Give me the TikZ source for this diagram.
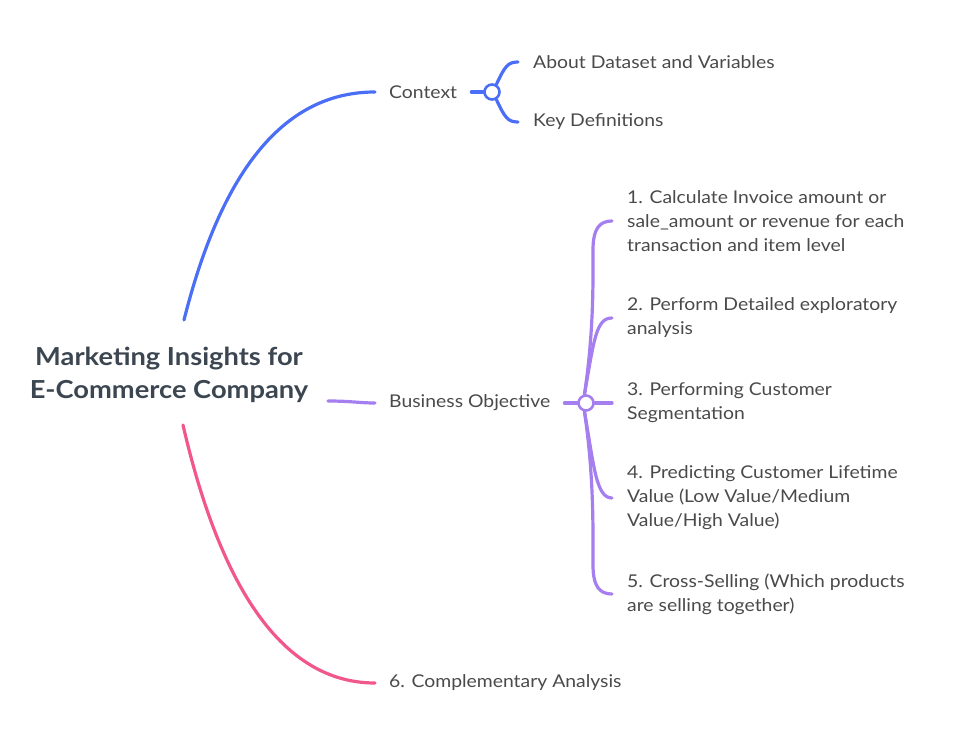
\documentclass[tikz,border=0pt]{standalone}
\usepackage{fontspec}
\setmainfont{Lato}[FakeStretch=1.1]
\usepackage{tikz}
\definecolor{ctxblue}{HTML}{4A6EF5}
\definecolor{objpurple}{HTML}{A57EEF}
\definecolor{comppink}{HTML}{F2578C}
\definecolor{txtgrey}{HTML}{4A4A4A}
\definecolor{titlegrey}{HTML}{3C4651}
\tikzset{
    topic/.style={anchor=west, inner xsep=14pt, inner ysep=0pt, text=txtgrey, font=\fontsize{17.6}{24}\selectfont},
    subtopic/.style={anchor=west, inner xsep=15pt, inner ysep=0pt, text=txtgrey, align=left, font=\fontsize{17.6}{24}\selectfont},
    branch/.style={line width=3.2pt, line cap=round},
    knot/.style={circle, draw, fill=white, line width=2.6pt, minimum size=15pt, inner sep=0pt},
}

\begin{document}
\begin{tikzpicture}[x=1pt, y=-1pt]
    \useasboundingbox (0,0) rectangle (975,738);

    \node[align=center, text=titlegrey, font=\fontsize{24.8}{33}\selectfont\bfseries] (root) at (169,375) {Marketing Insights for\\E-Commerce Company};
    \coordinate (rootN) at (184,320);
    \coordinate (rootE) at (328,401);
    \coordinate (rootS) at (183,425);

    % context branch
    \node[topic] (ctx) at (375,92) {Context};
    \node[knot, draw=ctxblue] (ctxknot) at (492,92) {};
    \node[subtopic] (data) at (518,62) {About Dataset and Variables};
    \node[subtopic] (defs) at (518,122) {Key Definitions};
    \draw[branch, ctxblue] (rootN) .. controls (228,145) and (300,92) .. (ctx.west);
    \draw[branch, ctxblue] (ctx.east) -- (ctxknot.west);
    \draw[branch, ctxblue] (ctxknot.60) .. controls (505,66) and (508,62) .. (data.west);
    \draw[branch, ctxblue] (ctxknot.-60) .. controls (505,118) and (508,122) .. (defs.west);

    % objective branch
    \node[topic] (obj) at (375,403) {Business Objective};
    \node[knot, draw=objpurple] (objknot) at (586,403) {};
    \node[subtopic] (one) at (612,221) {1. Calculate Invoice amount or\\sale\_amount or revenue for each\\transaction and item level};
    \node[subtopic] (two) at (612,318) {2. Perform Detailed exploratory\\analysis};
    \node[subtopic] (three) at (612,403) {3. Performing Customer\\Segmentation};
    \node[subtopic] (four) at (612,498) {4. Predicting Customer Lifetime\\Value (Low Value/Medium\\Value/High Value)};
    \node[subtopic] (five) at (612,594) {5. Cross-Selling (Which products\\are selling together)};
    \draw[branch, objpurple] (rootE) .. controls (350,401) and (360,403) .. (obj.west);
    \draw[branch, objpurple] (obj.east) -- (objknot.west);
    \draw[branch, objpurple] (objknot.100) .. controls (594,330) and (593,280) .. (593,250) .. controls (593,228) and (600,221) .. (one.west);
    \draw[branch, objpurple] (objknot.100) .. controls (594,340) and (596,318) .. (two.west);
    \draw[branch, objpurple] (objknot.east) -- (three.west);
    \draw[branch, objpurple] (objknot.-100) .. controls (594,466) and (596,498) .. (four.west);
    \draw[branch, objpurple] (objknot.-100) .. controls (594,476) and (593,530) .. (593,565) .. controls (593,587) and (600,594) .. (five.west);

    % complementary branch
    \node[topic] (comp) at (375,683) {6. Complementary Analysis};
    \draw[branch, comppink] (rootS) .. controls (228,620) and (300,683) .. (comp.west);
\end{tikzpicture}
\end{document}
